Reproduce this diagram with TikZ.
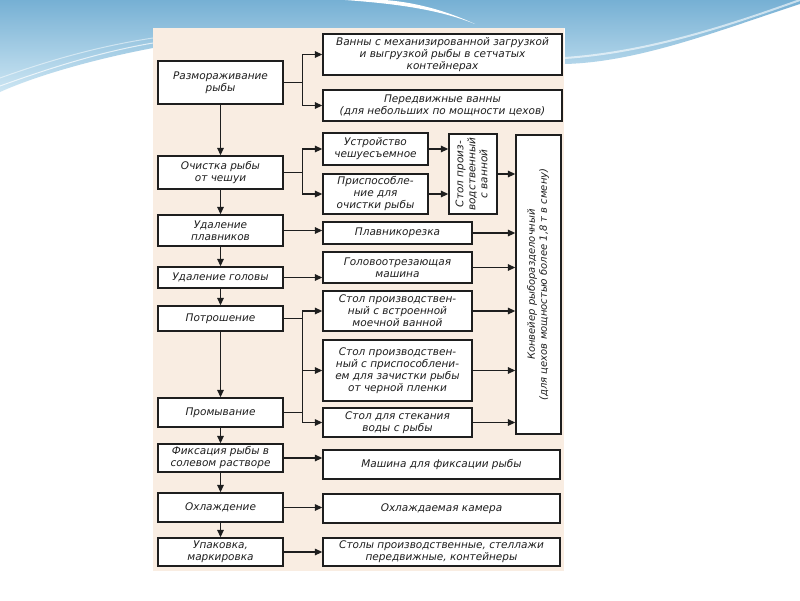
\documentclass[tikz,border=0pt]{standalone}
\usepackage{fontspec}
\setmainfont{DejaVu Sans}
\usetikzlibrary{arrows.meta,calc}
\definecolor{panel}{RGB}{249,237,226}
\definecolor{ink}{RGB}{30,30,30}
\definecolor{blueA}{RGB}{118,176,212}
\definecolor{blueB}{RGB}{205,230,243}
\begin{document}
\begin{tikzpicture}[x=1pt,y=-1pt,
  box/.style={draw=ink, line width=1.3pt, fill=white, align=center, text=ink,
    font=\fontsize{10.5}{12}\selectfont\itshape, inner sep=0pt},
  ln/.style={draw=ink, line width=1.3pt},
  arr/.style={draw=ink, line width=1.3pt, -{Triangle[length=7.5pt,width=6.5pt]}}]
\useasboundingbox (0,0) rectangle (800,600);
\fill[white] (0,0) rectangle (800,600);
% decorative waves
\shade[top color=blueA, bottom color=blueB]
  (0,0) -- (800,0) -- (800,4) .. controls (720,30) and (640,62) .. (565,64)
  -- (565,28) -- (153,28) -- (153,48) .. controls (100,58) and (40,74) .. (0,92) -- cycle;
\fill[white] (345,0) .. controls (400,4) and (440,10) .. (475,24)
  .. controls (440,8) and (410,2) .. (385,0) -- cycle;
\draw[white, opacity=0.7, line width=1pt] (0,86) .. controls (50,68) and (100,52) .. (153,43);
\draw[white, opacity=0.5, line width=1pt] (0,78) .. controls (50,60) and (100,46) .. (153,38);
\draw[white, opacity=0.6, line width=2pt] (565,58) .. controls (650,52) and (730,25) .. (800,0);
% panel
\fill[panel] (153,28) rectangle (564,571);
% left column
\node[box, minimum width=125pt, minimum height=43pt] (L1) at (220.5,82.5) {Размораживание\\рыбы};
\node[box, minimum width=125pt, minimum height=33pt] (L2) at (220.5,172.5) {Очистка рыбы\\от чешуи};
\node[box, minimum width=125pt, minimum height=31pt] (L3) at (220.5,230.5) {Удаление\\плавников};
\node[box, minimum width=125pt, minimum height=21pt] (L4) at (220.5,277.5) {Удаление головы};
\node[box, minimum width=125pt, minimum height=25pt] (L5) at (220.5,318.5) {Потрошение};
\node[box, minimum width=125pt, minimum height=29pt] (L6) at (220.5,412.5) {Промывание};
\node[box, minimum width=125pt, minimum height=28pt] (L7) at (220.5,458) {Фиксация рыбы в\\солевом растворе};
\node[box, minimum width=125pt, minimum height=29pt] (L8) at (220.5,507.5) {Охлаждение};
\node[box, minimum width=125pt, minimum height=28pt] (L9) at (220.5,552) {Упаковка,\\маркировка};
% right boxes
\node[box, minimum width=239pt, minimum height=41pt] (R1) at (442.5,54.5) {Ванны с механизированной загрузкой\\и выгрузкой рыбы в сетчатых\\контейнерах};
\node[box, minimum width=239pt, minimum height=31pt] (R2) at (442.5,105.5) {Передвижные ванны\\(для небольших по мощности цехов)};
\node[box, minimum width=105pt, minimum height=32pt] (R3) at (375.5,149) {Устройство\\чешуесъемное};
\node[box, minimum width=105pt, minimum height=40pt] (R4) at (375.5,194) {Приспособле-\\ние для\\очистки рыбы};
\node[box, minimum width=48pt, minimum height=80pt] (S) at (473,174)
  {\rotatebox{90}{\begin{tabular}{@{}c@{}}Стол произ-\\водственный\\с ванной\end{tabular}}};
\node[box, minimum width=45pt, minimum height=299pt, font=\fontsize{10}{12}\selectfont\itshape] (K) at (538.5,284.5)
  {\rotatebox{90}{\begin{tabular}{@{}c@{}}Конвейер рыборазделочный\\(для цехов мощностью более 1,8 т в смену)\end{tabular}}};
\node[box, minimum width=149pt, minimum height=22pt] (R5) at (397.5,233) {Плавникорезка};
\node[box, minimum width=149pt, minimum height=31pt] (R6) at (397.5,267.5) {Головоотрезающая\\машина};
\node[box, minimum width=149pt, minimum height=40pt] (R7) at (397.5,311) {Стол производствен-\\ный с встроенной\\моечной ванной};
\node[box, minimum width=149pt, minimum height=61pt] (R8) at (397.5,370.5) {Стол производствен-\\ный с приспособлени-\\ем для зачистки рыбы\\от черной пленки};
\node[box, minimum width=149pt, minimum height=29pt] (R9) at (397.5,422.5) {Стол для стекания\\воды с рыбы};
\node[box, minimum width=237pt, minimum height=29pt] (R10) at (441.5,464.5) {Машина для фиксации рыбы};
\node[box, minimum width=237pt, minimum height=29pt] (R11) at (441.5,508.5) {Охлаждаемая камера};
\node[box, minimum width=237pt, minimum height=28pt] (R12) at (441.5,552) {Столы производственные, стеллажи\\передвижные, контейнеры};
% vertical flow
\draw[arr] (L1) -- (L2);
\draw[arr] (L2) -- (L3);
\draw[arr] (L3) -- (L4);
\draw[arr] (L4) -- (L5);
\draw[arr] (L5) -- (L6);
\draw[arr] (L6) -- (L7);
\draw[arr] (L7) -- (L8);
\draw[arr] (L8) -- (L9);
% branches
\path (L1.east) -- ++(19,0) coordinate (j1);
\draw[ln] (L1.east) -- (j1);
\draw[arr] (j1) |- (R1.west);
\draw[arr] (j1) |- (R2.west);
\path (L2.east) -- ++(19,0) coordinate (j2);
\draw[ln] (L2.east) -- (j2);
\draw[arr] (j2) |- (R3.west);
\draw[arr] (j2) |- (R4.west);
\draw[arr] (R3.east) -- (R3.east -| S.west);
\draw[arr] (R4.east) -- (R4.east -| S.west);
\draw[arr] (S.east) -- (S.east -| K.west);
\draw[arr] (L3.east) -- (L3.east -| R5.west);
\draw[arr] (L4.east) -- (L4.east -| R6.west);
\path (L5.east) -- ++(19,0) coordinate (j5);
\draw[ln] (L5.east) -- (j5);
\draw[ln] (L6.east) -- (L6.east -| j5);
\draw[arr] (j5) |- (R7.west);
\draw[arr] (j5) |- (R8.west);
\draw[arr] (j5) |- (R9.west);
\draw[arr] (R5.east) -- (R5.east -| K.west);
\draw[arr] (R6.east) -- (R6.east -| K.west);
\draw[arr] (R7.east) -- (R7.east -| K.west);
\draw[arr] (R8.east) -- (R8.east -| K.west);
\draw[arr] (R9.east) -- (R9.east -| K.west);
\draw[arr] (L7.east) -- (L7.east -| R10.west);
\draw[arr] (L8.east) -- (L8.east -| R11.west);
\draw[arr] (L9.east) -- (L9.east -| R12.west);
\end{tikzpicture}
\end{document}
